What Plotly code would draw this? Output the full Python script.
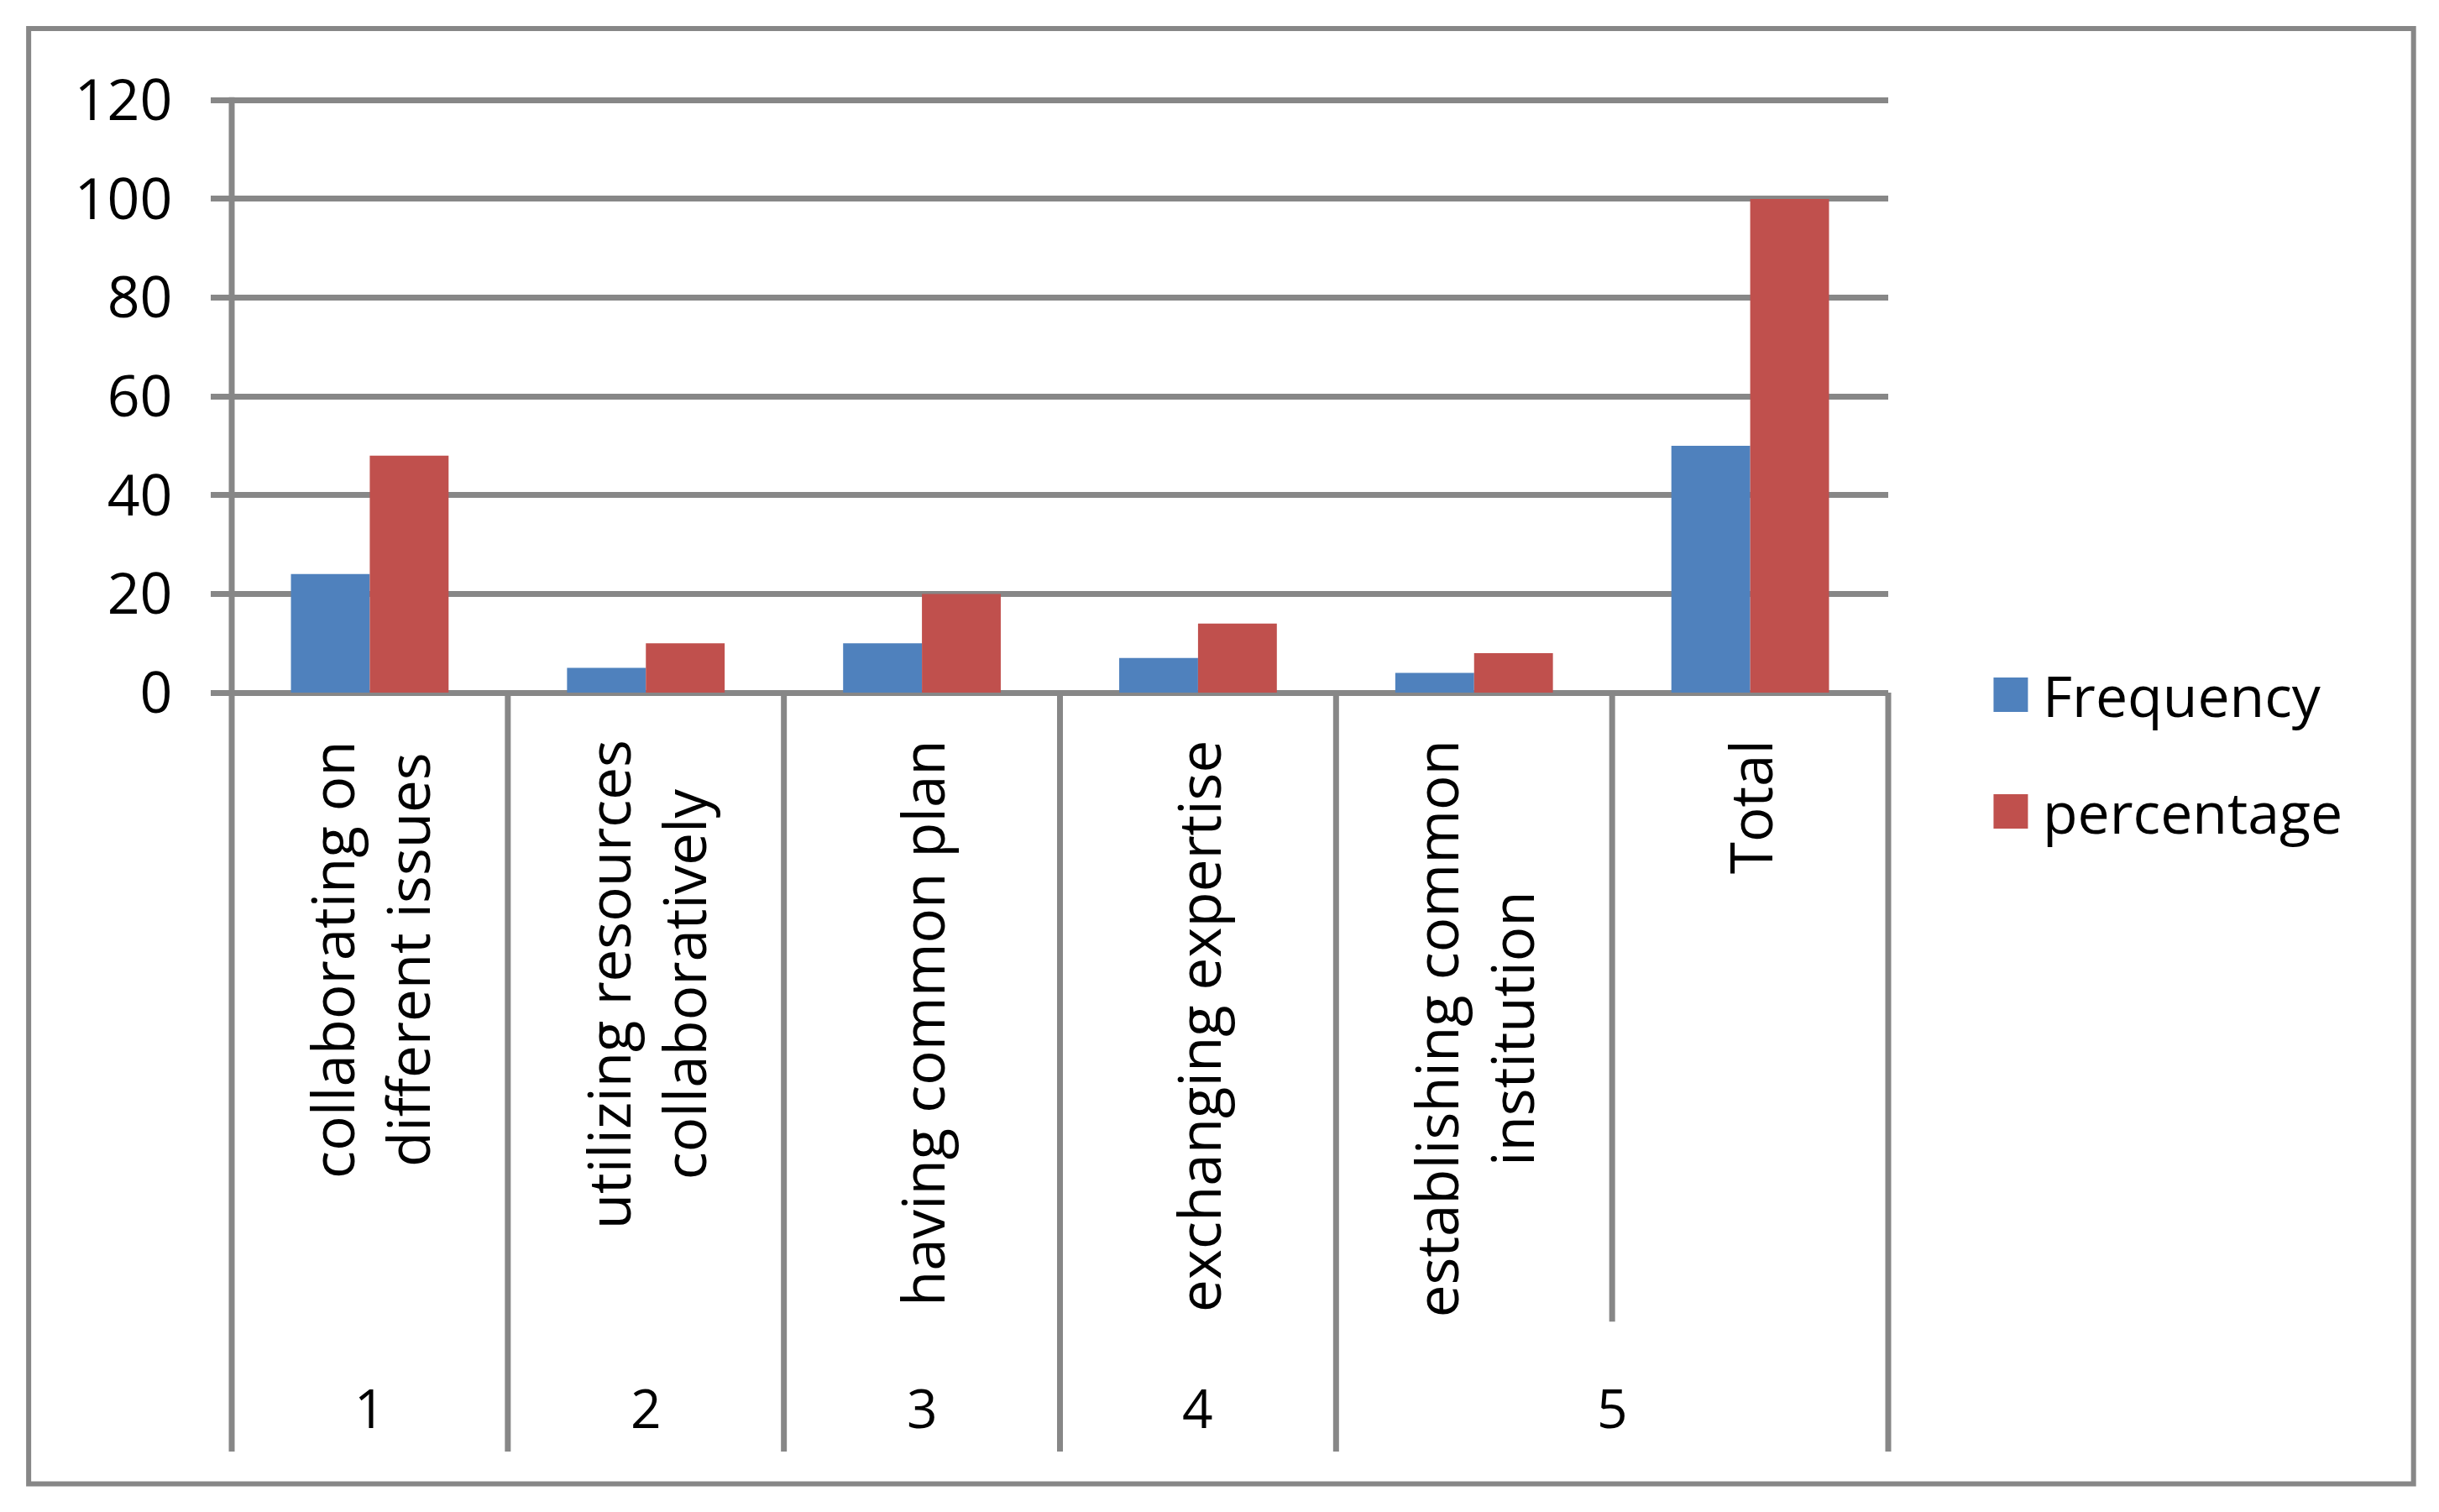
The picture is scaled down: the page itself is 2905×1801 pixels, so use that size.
import plotly.graph_objects as go

# ---------------- data ----------------
groups = ["1", "2", "3", "4", "5", "5"]
categories = [
    "collaborating on<br>different issues",
    "utilizing resources<br>collaboratively",
    "having common plan",
    "exchanging expertise",
    "establishing common<br>institution",
    "Total",
]
frequency = [24, 5, 10, 7, 4, 50]
percentage = [48, 10, 20, 14, 8, 100]
series_names = ["Frequency", "percentage"]
series_colors = ["#4F81BD", "#C0504D"]
y_ticks = [0, 20, 40, 60, 80, 100, 120]

# ---------------- geometry (page pixels) ----------------
PAGE_W, PAGE_H = 2905, 1801
OFF = 8                      # default body margin of the html page
W, H = PAGE_W - 2 * OFF, PAGE_H - 2 * OFF
GRAY = "#878787"
LW = 7
FONT = "Open Sans"

L = 275.5 - OFF              # centre of left axis line
R = 2249.5 - OFF             # centre of right divider
Y120 = 119.5 - OFF           # gridline 120
Y0 = 825.5 - OFF             # gridline 0
YMAX = 120.4
ppu = (Y0 - Y120) / 120.0
T = Y120 - (YMAX - 120) * ppu
B = Y0


def px_x(px):          # page px -> paper x
    return (px - OFF - L) / (R - L)


def px_y(py):          # page px -> paper y
    return (B - (py - OFF)) / (B - T)


fig = go.Figure()
for name, vals, col in zip(series_names, [frequency, percentage], series_colors):
    fig.add_trace(go.Bar(x=categories, y=vals, name=name,
                         marker=dict(color=col, line=dict(width=0)),
                         showlegend=False))

shapes = []
# outer chart border
shapes.append(dict(type="rect", xref="paper", yref="paper",
                   x0=px_x(33.5), x1=px_x(2875.5), y0=px_y(1768.5), y1=px_y(34),
                   line=dict(color=GRAY, width=6), layer="below"))

# category dividers (and left axis line); x range spans exactly n categories
n = len(categories)
bottom_long = px_y(1730)
bottom_short = px_y(1575)
top_left = px_y(116)
for i in range(n + 1):
    xpos = i / n
    y0 = 0
    if i == 0:
        y0 = top_left
    if i == 0 or i == n or groups[i - 1] != groups[i]:
        y1 = bottom_long
    else:
        y1 = bottom_short
    shapes.append(dict(type="line", xref="paper", yref="paper",
                       x0=xpos, x1=xpos, y0=y0, y1=y1,
                       line=dict(color=GRAY, width=LW)))

# manual legend squares
legend_y = [828, 967]
for (name, col, ly) in zip(series_names, series_colors, legend_y):
    shapes.append(dict(type="rect", xref="paper", yref="paper",
                       x0=px_x(2375), x1=px_x(2416),
                       y0=px_y(ly + 20.5), y1=px_y(ly - 20.5),
                       fillcolor=col, line=dict(width=0)))

annotations = []
# rotated category labels
for c in categories:
    annotations.append(dict(x=c, xref="x", y=px_y(880), yref="paper",
                            text=c, textangle=-90, showarrow=False,
                            xanchor="center", yanchor="top", align="center",
                            font=dict(family=FONT, size=69, color="black")))

# group labels
seen = []
for g in groups:
    if g not in seen:
        seen.append(g)
for g in seen:
    idx = [i for i, gg in enumerate(groups) if gg == g]
    annotations.append(dict(x=sum(idx) / len(idx), xref="x",
                            y=px_y(1677), yref="paper", text=g,
                            showarrow=False, xanchor="center", yanchor="middle",
                            font=dict(family=FONT, size=64, color="black")))

# legend texts
for name, ly in zip(series_names, legend_y):
    annotations.append(dict(x=px_x(2432), xref="paper", y=px_y(ly), yref="paper",
                            text=name, showarrow=False, xanchor="left",
                            yanchor="middle",
                            font=dict(family=FONT, size=68, color="black")))

fig.update_layout(
    width=W, height=H,
    margin=dict(l=L, r=W - R, t=T, b=H - B, pad=0, autoexpand=False),
    paper_bgcolor="white", plot_bgcolor="white",
    barmode="group", bargap=0.429, bargroupgap=0,
    shapes=shapes, annotations=annotations,
    showlegend=False,
    xaxis=dict(type="category", range=[-0.5, n - 0.5], showticklabels=False,
               showgrid=False, zeroline=False, showline=False, ticks=""),
    yaxis=dict(range=[0, YMAX], tickvals=y_ticks, ticktext=[str(t) for t in y_ticks],
               showgrid=True, gridcolor=GRAY, gridwidth=LW,
               zeroline=True, zerolinecolor=GRAY, zerolinewidth=LW,
               showline=False,
               ticks="outside", ticklen=24, tickwidth=LW, tickcolor=GRAY,
               ticklabelstandoff=32,
               tickfont=dict(family=FONT, size=68, color="black")),
)

fig.write_html("out.html")
